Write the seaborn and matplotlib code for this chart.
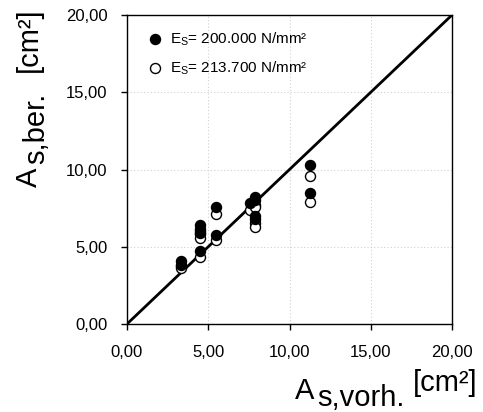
import matplotlib
matplotlib.use('Agg')
import matplotlib.pyplot as plt
import seaborn as sns

# A_s,vorh. [cm²] against A_s,ber. [cm²] for the two steel moduli
as_vorh = [3.3, 3.3, 4.5, 4.5, 4.5, 4.5, 5.5, 5.5, 7.55, 7.85, 7.85, 7.85, 7.85, 11.27, 11.27]
as_ber_200000 = [4.05, 3.85, 4.7, 6.4, 6.15, 5.9, 7.6, 5.75, 7.8, 8.25, 8.0, 7.0, 6.8, 10.3, 8.45]
as_ber_213700 = [3.75, 3.6, 4.35, 6.0, 5.8, 5.55, 7.15, 5.45, 7.35, 7.7, 7.55, 6.55, 6.3, 9.6, 7.9]
diag = [0, 20]
ticks = [0, 5, 10, 15, 20]
tick_labels = ['0,00', '5,00', '10,00', '15,00', '20,00']
series_labels = [r'$\mathregular{E_S}$= 200.000 N/mm²', r'$\mathregular{E_S}$= 213.700 N/mm²']

sns.set_theme(style='white')
plt.rcParams['font.family'] = ['Liberation Sans', 'DejaVu Sans']
plt.rcParams['mathtext.fontset'] = 'custom'
plt.rcParams['mathtext.rm'] = 'Liberation Sans'
plt.rcParams['text.color'] = 'black'

W, H = 483, 412
fig = plt.figure(figsize=(W / 100, H / 100), dpi=100)
ax = fig.add_axes([127 / W, 88 / H, 325 / W, 309 / H])

sns.lineplot(x=diag, y=diag, ax=ax, color='black', linewidth=2.0, zorder=2)
sns.scatterplot(x=as_vorh, y=as_ber_213700, ax=ax, color='white', edgecolor='black',
                s=52, linewidth=1.0, zorder=3, label=series_labels[1])
sns.scatterplot(x=as_vorh, y=as_ber_200000, ax=ax, color='black', edgecolor='black',
                s=52, linewidth=1.0, zorder=4, label=series_labels[0])

ax.set_xlim(0, 20)
ax.set_ylim(0, 20)
ax.set_xticks(ticks)
ax.set_yticks(ticks)
ax.set_xticklabels(tick_labels)
ax.set_yticklabels(tick_labels)
ax.tick_params(direction='out', length=4, width=1, color='black', labelsize=12,
               labelcolor='black', left=True, bottom=True)
ax.tick_params(axis='x', pad=11)
ax.tick_params(axis='y', pad=10)
ax.grid(True, color='#d0d0d0', linestyle=(0, (1, 2)), linewidth=0.8)
ax.set_axisbelow(True)
for sp in ax.spines.values():
    sp.set_color('black')
    sp.set_linewidth(1.0)
ax.set_xlabel('')
ax.set_ylabel('')

handles, labels = ax.get_legend_handles_labels()
leg = ax.legend(handles[::-1], labels[::-1], loc='upper left', bbox_to_anchor=(0.06, 0.95),
                frameon=False, fontsize=11, handlelength=1.1, handletextpad=0.45,
                labelspacing=0.75, borderpad=0, borderaxespad=0)
for t in leg.get_texts():
    t.set_color('black')

# axis titles built from pieces (subscript at full size, as in the original)
fs = 21
fig.text(295 / W, 1 - 399 / H, 'A', fontsize=fs, ha='left', va='baseline')
fig.text(317 / W, 1 - 406 / H, 's,vorh.', fontsize=fs, ha='left', va='baseline')
fig.text(413 / W, 1 - 391 / H, '[cm²]', fontsize=fs, ha='left', va='baseline')

fig.text(37 / W, 1 - 187 / H, 'A', fontsize=fs, rotation=90, rotation_mode='anchor',
         ha='left', va='baseline')
fig.text(44 / W, 1 - 164 / H, 's,ber.', fontsize=fs, rotation=90, rotation_mode='anchor',
         ha='left', va='baseline')
fig.text(37 / W, 1 - 72 / H, '[cm²]', fontsize=fs, rotation=90, rotation_mode='anchor',
         ha='left', va='baseline')

fig.savefig('out.png', dpi=100)
